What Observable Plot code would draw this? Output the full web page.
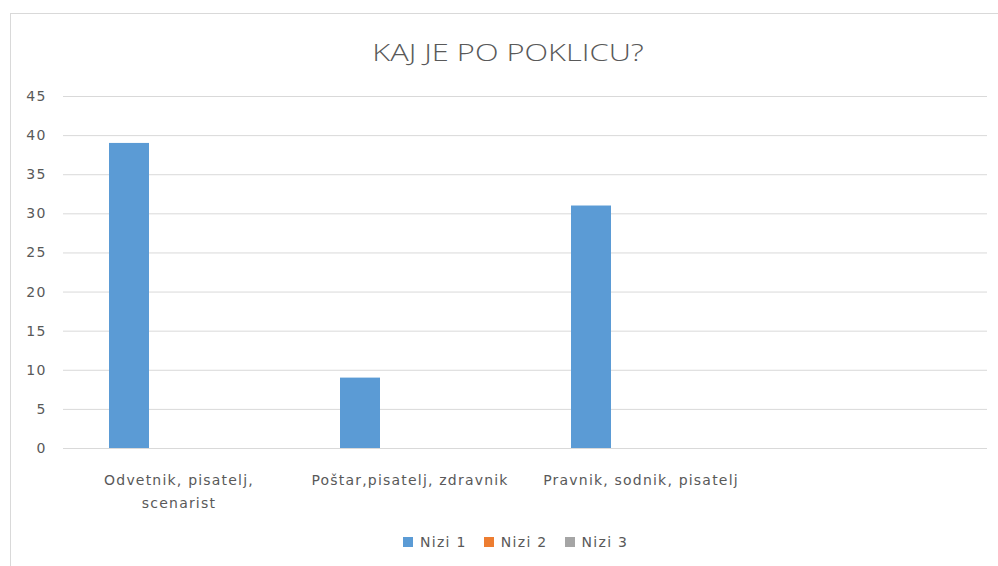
<!DOCTYPE html>
<html>
<head>
<meta charset="utf-8">
<script src="https://cdn.jsdelivr.net/npm/d3@7"></script>
<script src="https://cdn.jsdelivr.net/npm/@observablehq/plot@0.6"></script>
<style>
  html, body { margin: 0; padding: 0; background: #fff; }
  #wrap { position: relative; width: 998px; height: 566px; overflow: hidden; font-family: "DejaVu Sans", sans-serif; }
  #frame { position: absolute; left: 10px; top: 13px; width: 1000px; height: 600px; border: 1px solid #d9d9d9; box-sizing: border-box; }
  #chart { position: absolute; left: 0; top: 0; }
  #title { position: absolute; left: 208px; width: 600px; top: 36px; text-align: center; font-family: "Open Sans", sans-serif; font-size: 23px; font-weight: 300; color: #595959; transform: scaleX(1.34); transform-origin: 50% 50%; }
  #legend { position: absolute; left: 403px; top: 534px; display: flex; gap: 17px; font-size: 14px; letter-spacing: 1.3px; color: #595959; }
  #legend .item { display: flex; align-items: center; gap: 7px; }
  #legend .sw { width: 10px; height: 10px; display: inline-block; }
</style>
</head>
<body>
<div id="wrap">
  <div id="frame"></div>
  <div id="chart"></div>
  <div id="title"></div>
  <div id="legend"></div>
</div>
<script>
const title = "KAJ JE PO POKLICU?";
const categories = ["Odvetnik, pisatelj, scenarist", "Poštar,pisatelj, zdravnik", "Pravnik, sodnik, pisatelj", " "];
const categoryLabels = ["Odvetnik, pisatelj,\nscenarist", "Poštar,pisatelj, zdravnik", "Pravnik, sodnik, pisatelj", ""];
const series = ["Nizi 1", "Nizi 2", "Nizi 3"];
const nizi1 = [39, 9, 31, null];
const nizi2 = [0, 0, 0, null];
const nizi3 = [0, 0, 0, null];
const colors = ["#5b9bd5", "#ed7d31", "#a5a5a5"];
const yTicks = [0, 5, 10, 15, 20, 25, 30, 35, 40, 45];

const valuesBySeries = [nizi1, nizi2, nizi3];
const data = [];
categories.forEach((c, i) => {
  series.forEach((s, j) => {
    data.push({category: c, series: s, value: valuesBySeries[j][i]});
  });
});

const chart = Plot.plot({
  width: 998,
  height: 566,
  marginLeft: 63,
  marginRight: 11,
  marginTop: 96,
  marginBottom: 118,
  style: {fontFamily: "'DejaVu Sans', sans-serif", fontSize: "14px", color: "#595959", background: "transparent", letterSpacing: "1.2px"},
  fx: {domain: categories, padding: 0},
  x: {domain: series, paddingInner: 0.208, paddingOuter: 0.891, axis: null},
  y: {domain: [0, 45]},
  color: {domain: series, range: colors},
  marks: [
    Plot.gridY(yTicks, {stroke: "#d9d9d9", strokeOpacity: 1, strokeWidth: 1}),
    Plot.axisY(yTicks, {tickSize: 0, tickPadding: 17, label: null, fill: "#595959"}),
    Plot.axisFx({anchor: "bottom", tickSize: 0, tickPadding: 21, label: null, lineHeight: 1.6, fill: "#595959",
                 tickFormat: d => categoryLabels[categories.indexOf(d)]}),
    Plot.barY(data, {fx: "category", x: "series", y: "value", fill: "series"})
  ]
});
document.getElementById("chart").appendChild(chart);
document.getElementById("title").textContent = title;

const legend = document.getElementById("legend");
series.forEach((s, i) => {
  const item = document.createElement("span");
  item.className = "item";
  const sw = document.createElement("span");
  sw.className = "sw";
  sw.style.background = colors[i];
  const t = document.createElement("span");
  t.textContent = s;
  item.appendChild(sw);
  item.appendChild(t);
  legend.appendChild(item);
});
</script>
</body>
</html>
